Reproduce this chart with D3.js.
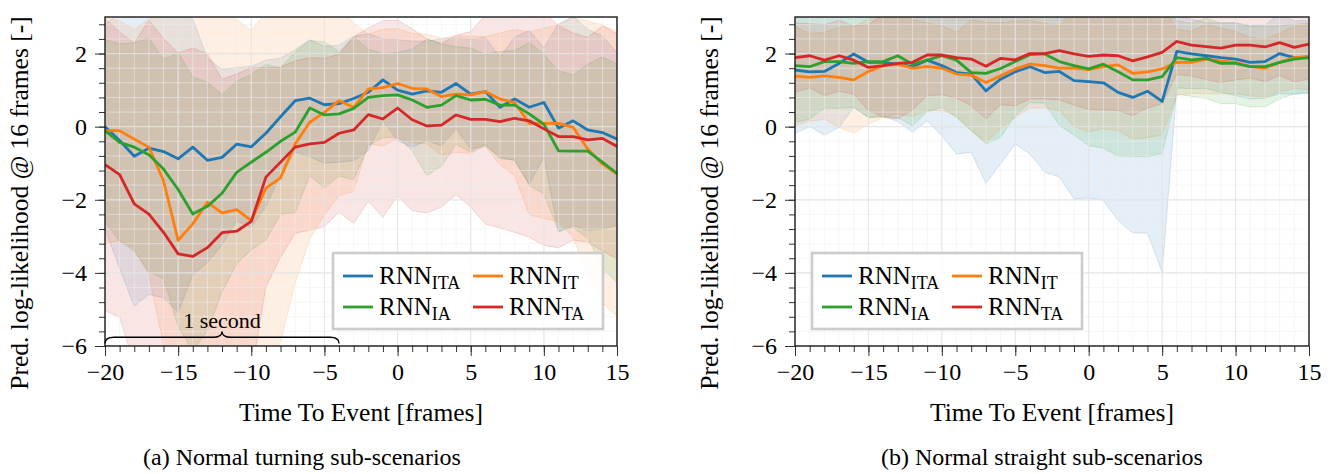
<!DOCTYPE html>
<html><head><meta charset="utf-8">
<script src="https://cdn.jsdelivr.net/npm/d3@7"></script>
<style>
body{margin:0;background:#fff}
text{font-family:"Liberation Serif","Times New Roman",serif;fill:#000}
</style>
</head><body>
<svg id="chart" width="1334" height="474"></svg>
<script>
// ---------- data ----------
const frames = [-20,-19,-18,-17,-16,-15,-14,-13,-12,-11,-10,-9,-8,-7,-6,-5,-4,-3,-2,-1,0,1,2,3,4,5,6,7,8,9,10,11,12,13,14,15];
const xTickValues = [-20,-15,-10,-5,0,5,10,15];
const yTickValues = [-6,-4,-2,0,2];
const seriesNames = ["ITA","IT","IA","TA"];
const seriesColors = ["#1f77b4","#ff7f0e","#2ca02c","#d62728"];

// (a) Normal turning: means
const turnITA = [0.0,-0.38,-0.81,-0.59,-0.68,-0.88,-0.56,-0.92,-0.84,-0.48,-0.55,-0.18,0.27,0.71,0.78,0.60,0.63,0.77,0.94,1.28,1.00,0.89,0.98,0.94,1.18,0.89,0.96,0.53,0.76,0.53,0.66,-0.04,0.16,-0.09,-0.16,-0.34];
const turnIT  = [-0.11,-0.11,-0.34,-0.56,-1.48,-3.11,-2.66,-2.07,-2.36,-2.27,-2.57,-1.68,-1.40,-0.47,0.12,0.39,0.71,0.53,1.03,1.07,1.18,1.05,1.03,0.82,0.89,0.87,0.96,0.76,0.66,0.09,0.09,0.09,-0.02,-0.61,-1.02,-1.29];
const turnIA  = [-0.11,-0.43,-0.56,-0.77,-1.16,-1.72,-2.39,-2.18,-1.82,-1.25,-0.97,-0.70,-0.40,-0.15,0.51,0.32,0.35,0.50,0.80,0.85,0.87,0.73,0.53,0.59,0.85,0.73,0.75,0.59,0.59,0.35,0.07,-0.66,-0.67,-0.67,-0.97,-1.28];
const turnTA  = [-1.04,-1.31,-2.11,-2.39,-2.89,-3.48,-3.55,-3.31,-2.90,-2.86,-2.59,-1.38,-0.97,-0.56,-0.47,-0.43,-0.18,-0.09,0.33,0.21,0.51,0.19,0.02,0.04,0.32,0.20,0.20,0.14,0.23,0.16,-0.06,-0.27,-0.27,-0.36,-0.32,-0.54];
// (a) standard deviations (band half-widths)
const turnITAStd = [2.8,3.5,4.1,4.0,4.0,4.2,3.5,2.8,2.4,2.1,2.2,2.0,1.6,1.4,1.6,1.6,1.6,1.7,1.6,1.12,1.38,1.45,1.36,1.46,1.24,1.5,1.48,1.37,1.69,2.1,1.5,2.85,2.86,2.75,2.64,2.36];
const turnITStd  = [3.1,3.0,3.0,3.5,4.5,6.2,6.0,5.5,5.5,5.2,5.2,4.8,4.5,3.8,3.2,2.8,2.6,2.3,1.5,1.6,1.5,1.5,1.5,1.6,1.6,1.6,1.5,1.8,2.0,2.5,2.6,2.7,3.0,3.5,3.8,3.9];
const turnIAStd  = [2.5,2.7,2.85,3.2,3.0,3.75,3.75,3.4,2.7,2.5,2.4,2.4,2.0,2.2,1.85,2.0,1.7,1.95,1.32,1.15,1.16,1.39,1.87,1.67,1.34,1.42,1.23,1.47,1.49,1.95,1.91,2.19,2.09,2.38,2.88,2.99];
const turnTAStd  = [4.0,3.9,4.4,5.3,5.3,5.5,5.7,5.3,4.2,4.3,4.2,3.0,2.6,2.36,2.36,2.3,2.16,2.55,2.37,2.69,2.4,2.49,2.38,2.24,2.18,2.4,2.86,2.91,3.12,3.18,3.19,3.04,2.83,2.8,3.08,3.08];

// (b) Normal straight: means
const straightITA = [1.55,1.50,1.51,1.73,1.99,1.76,1.76,1.71,1.64,1.82,1.67,1.48,1.44,0.98,1.30,1.50,1.64,1.48,1.51,1.26,1.23,1.20,0.94,0.80,0.97,0.69,2.06,1.99,1.94,1.89,1.85,1.76,1.78,2.0,1.89,1.91];
const straightIT  = [1.38,1.35,1.39,1.35,1.28,1.51,1.67,1.71,1.60,1.64,1.60,1.44,1.41,1.21,1.39,1.58,1.71,1.67,1.60,1.60,1.56,1.64,1.69,1.46,1.50,1.58,1.76,1.76,1.85,1.80,1.76,1.64,1.60,1.76,1.89,1.91];
const straightIA  = [1.67,1.64,1.78,1.78,1.73,1.78,1.78,1.94,1.71,1.82,1.94,1.82,1.48,1.46,1.59,1.78,1.97,1.99,1.78,1.67,1.58,1.71,1.50,1.28,1.28,1.37,1.89,1.83,1.87,1.73,1.73,1.64,1.64,1.76,1.85,1.89];
const straightTA  = [1.89,1.94,1.82,1.94,1.82,1.62,1.67,1.73,1.76,1.96,1.96,1.89,1.85,1.65,1.87,1.83,2.0,2.0,2.08,1.99,1.92,1.96,1.94,1.80,1.91,2.03,2.33,2.23,2.19,2.15,2.23,2.23,2.18,2.30,2.17,2.26];
// (b) standard deviations
const straightITAStd = [1.73,1.5,1.74,1.75,1.46,1.51,1.49,1.57,1.79,1.66,1.92,2.23,2.14,2.53,2.32,1.97,2.39,2.73,2.88,3.24,3.18,3.22,3.51,3.71,3.88,4.67,1.0,0.95,0.9,0.95,1.0,1.0,1.0,1.1,1.0,1.0];
const straightITStd  = [1.35,1.2,1.19,1.37,1.46,1.44,1.42,1.36,1.33,1.2,1.16,1.14,1.52,1.64,1.45,1.31,1.2,1.16,1.16,1.6,1.7,1.7,1.8,1.8,1.8,1.8,0.9,0.85,0.95,0.9,0.85,0.8,0.8,0.8,0.85,0.9];
const straightIAStd  = [1.55,1.44,1.27,1.28,1.2,1.53,1.51,1.7,1.68,1.41,1.41,1.57,1.59,1.93,1.88,1.48,1.31,1.35,1.75,1.9,2.1,2.3,2.3,2.1,2.1,2.1,1.0,1.0,1.1,1.1,1.1,1.1,1.1,1.0,0.95,0.95];
const straightTAStd  = [0.95,0.88,0.97,0.97,0.93,1.18,1.40,1.52,1.30,1.11,1.09,1.11,1.28,1.44,1.27,1.26,1.24,1.24,1.35,1.4,1.45,1.5,1.5,1.5,1.4,1.4,0.9,0.85,0.9,0.95,0.95,0.9,0.95,0.9,0.95,0.95];

const xLabel = "Time To Event [frames]";
const yLabel = "Pred. log-likelihood @ 16 frames [-]";
const captions = ["(a) Normal turning sub-scenarios","(b) Normal straight sub-scenarios"];
const braceText = "1 second";

// ---------- drawing ----------
const svg = d3.select("#chart");
const FS_TICK = 24, FS_LABEL = 25.5, FS_CAP = 24, FS_LEG = 25, FS_SUB = 18;

const panels = [
  {id:"a", means:[turnITA,turnIT,turnIA,turnTA], stds:[turnITAStd,turnITStd,turnIAStd,turnTAStd],
   x0:105, x1:617, ylabX:28, capX:302, legX:333, brace:true},
  {id:"b", means:[straightITA,straightIT,straightIA,straightTA], stds:[straightITAStd,straightITStd,straightIAStd,straightTAStd],
   x0:795, x1:1309, ylabX:718, capX:1042, legX:812, brace:false}
];
const yTop = 17, yBot = 346;

function minusFmt(d){ return d < 0 ? "\u2212" + Math.abs(d) : String(d); }

panels.forEach((p, pi) => {
  const x = d3.scaleLinear().domain([-20,15]).range([p.x0,p.x1]);
  const y = d3.scaleLinear().domain([-6,3]).range([yBot,yTop]);
  const g = svg.append("g");
  const clipId = "clip" + p.id;
  svg.append("defs").append("clipPath").attr("id", clipId)
    .append("rect").attr("x", p.x0).attr("y", yTop).attr("width", p.x1-p.x0).attr("height", yBot-yTop);

  const plot = g.append("g").attr("clip-path", `url(#${clipId})`);

  // bands
  p.means.forEach((m, si) => {
    const rows = frames.map((f,i) => ({f, m:m[i], s:p.stds[si][i]}));
    const area = d3.area().x(d => x(d.f)).y0(d => y(d.m - d.s)).y1(d => y(d.m + d.s));
    plot.append("path").datum(rows).attr("d", area)
      .attr("fill", seriesColors[si]).attr("fill-opacity", 0.12)
      .attr("stroke", seriesColors[si]).attr("stroke-opacity", 0.22).attr("stroke-width", 0.8);
  });

  // grid (on top of bands)
  const minorX = frames;
  const minorY = d3.range(-6, 3.001, 0.4);
  plot.append("g").selectAll("line").data(minorX).join("line")
    .attr("x1", d => x(d)).attr("x2", d => x(d)).attr("y1", yTop).attr("y2", yBot)
    .attr("stroke", "#eeeeee").attr("stroke-opacity", 0.55).attr("stroke-width", 1);
  plot.append("g").selectAll("line").data(minorY).join("line")
    .attr("y1", d => y(d)).attr("y2", d => y(d)).attr("x1", p.x0).attr("x2", p.x1)
    .attr("stroke", "#eeeeee").attr("stroke-opacity", 0.55).attr("stroke-width", 1);
  plot.append("g").selectAll("line").data(xTickValues).join("line")
    .attr("x1", d => x(d)).attr("x2", d => x(d)).attr("y1", yTop).attr("y2", yBot)
    .attr("stroke", "#e2e2e2").attr("stroke-opacity", 0.75).attr("stroke-width", 1.2);
  plot.append("g").selectAll("line").data(yTickValues).join("line")
    .attr("y1", d => y(d)).attr("y2", d => y(d)).attr("x1", p.x0).attr("x2", p.x1)
    .attr("stroke", "#e2e2e2").attr("stroke-opacity", 0.75).attr("stroke-width", 1.2);

  // mean lines
  p.means.forEach((m, si) => {
    const rows = frames.map((f,i) => ({f, m:m[i]}));
    const line = d3.line().x(d => x(d.f)).y(d => y(d.m));
    plot.append("path").datum(rows).attr("d", line)
      .attr("fill", "none").attr("stroke", seriesColors[si]).attr("stroke-width", 2.8)
      .attr("stroke-linejoin", "round");
  });

  // axes ticks
  const xMinor = d3.axisBottom(x).tickValues(frames).tickSize(6).tickFormat("");
  const xMajor = d3.axisBottom(x).tickValues(xTickValues).tickSize(10).tickPadding(7).tickFormat(minusFmt);
  const yMinor = d3.axisLeft(y).tickValues(minorY).tickSize(6).tickFormat("");
  const yMajor = d3.axisLeft(y).tickValues(yTickValues).tickSize(10).tickPadding(8).tickFormat(minusFmt);
  [[xMinor,`translate(0,${yBot})`],[xMajor,`translate(0,${yBot})`],[yMinor,`translate(${p.x0},0)`],[yMajor,`translate(${p.x0},0)`]]
    .forEach(([ax, tr]) => {
      const a = g.append("g").attr("transform", tr).call(ax);
      a.select(".domain").remove();
      a.selectAll("line").attr("stroke", "#333").attr("stroke-width", 1);
      a.selectAll("text").style("font-size", FS_TICK + "px")
        .style("font-family", '"Liberation Serif",serif').attr("fill", "#000");
    });

  // frame
  g.append("rect").attr("x", p.x0).attr("y", yTop).attr("width", p.x1-p.x0).attr("height", yBot-yTop)
    .attr("fill", "none").attr("stroke", "#1a1a1a").attr("stroke-width", 1.4);

  // brace
  if (p.brace) {
    const xL = x(-20), xR = x(-4), xM = x(-12);
    const yE = y(-5.93), yB = y(-5.76), yT = y(-5.6);
    const r = 9;
    const path = `M${xL},${yE} Q${xL},${yB} ${xL+r},${yB} L${xM-r},${yB} Q${xM},${yB} ${xM},${yT} Q${xM},${yB} ${xM+r},${yB} L${xR-r},${yB} Q${xR},${yB} ${xR},${yE}`;
    g.append("path").attr("d", path).attr("fill", "none").attr("stroke", "#000").attr("stroke-width", 1.4);
    g.append("text").attr("x", xM).attr("y", y(-5.5)).attr("text-anchor", "middle")
      .style("font-size", "22px").text(braceText);
  }

  // legend
  const lx = p.legX, ly = 253, lw = 270, lh = 76;
  const leg = g.append("g");
  leg.append("rect").attr("x", lx).attr("y", ly).attr("width", lw).attr("height", lh)
    .attr("fill", "#fff").attr("fill-opacity", 0.85).attr("stroke", "#cccccc").attr("stroke-width", 2.6);
  seriesNames.forEach((n, si) => {
    const col = si % 2, row = Math.floor(si / 2);
    const ox = lx + (col === 0 ? 10 : 140);
    const oy = ly + 23 + row * 31;
    leg.append("line").attr("x1", ox).attr("x2", ox + 30).attr("y1", oy).attr("y2", oy)
      .attr("stroke", seriesColors[si]).attr("stroke-width", 2.8);
    const t = leg.append("text").attr("x", ox + 36).attr("y", oy + 8).style("font-size", FS_LEG + "px");
    t.append("tspan").text("RNN");
    t.append("tspan").attr("dy", 5).style("font-size", FS_SUB + "px").text(n);
  });

  // axis labels
  g.append("text").attr("x", (p.x0 + p.x1) / 2).attr("y", 421).attr("text-anchor", "middle")
    .style("font-size", FS_LABEL + "px").text(xLabel);
  g.append("text").attr("transform", `translate(${p.ylabX},203) rotate(-90)`).attr("text-anchor", "middle")
    .style("font-size", FS_LABEL + "px").text(yLabel);
  g.append("text").attr("x", p.capX).attr("y", 465).attr("text-anchor", "middle")
    .style("font-size", FS_CAP + "px").text(captions[pi]);
});
</script>
</body></html>
